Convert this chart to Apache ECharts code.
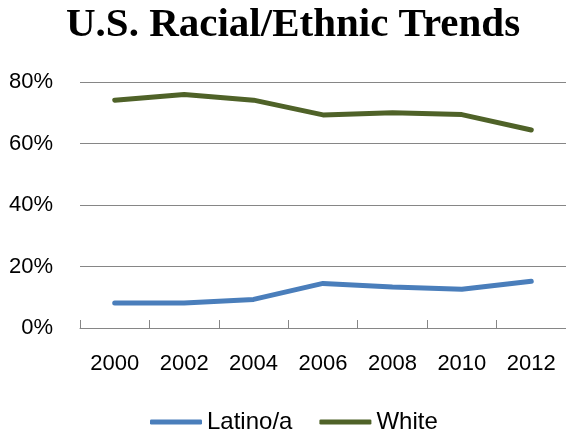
<!DOCTYPE html>
<html><head><meta charset="utf-8">
<script src="https://cdn.jsdelivr.net/npm/echarts@6/dist/echarts.min.js"></script>
<style>html,body{margin:0;padding:0;background:#fff}#c{width:566px;height:432px}</style>
</head><body><div id="c"></div>
<script>
const years = ['2000','2002','2004','2006','2008','2010','2012'];
const latino = [8.1, 8.1, 9.3, 14.5, 13.3, 12.6, 15.2];
const white = [74.1, 75.9, 74.1, 69.3, 70.0, 69.4, 64.4];
const yTicks = [0, 20, 40, 60, 80];

const chart = echarts.init(document.getElementById('c'));
const sans = 'Liberation Sans';
chart.setOption({
  animation: false,
  title: {
    text: 'U.S. Racial/Ethnic Trends',
    left: 61, top: 0,
    textStyle: { fontFamily: 'Liberation Serif', fontWeight: 'bold', fontSize: 41, color: '#000' }
  },
  legend: {
    top: 405, left: 145,
    itemWidth: 52, itemHeight: 5, itemGap: 27,
    icon: 'roundRect',
    textStyle: { fontFamily: sans, fontSize: 24, color: '#000' },
    data: ['Latino/a', 'White']
  },
  grid: { left: 80, right: -2, top: 82, bottom: 104, containLabel: false },
  xAxis: {
    type: 'category', data: years, boundaryGap: true,
    axisLine: { show: true, lineStyle: { color: '#868686', width: 1 } },
    axisTick: { show: true, inside: true, length: 8, lineStyle: { color: '#868686', width: 1 } },
    axisLabel: { fontFamily: sans, fontSize: 22, color: '#000', margin: 25 }
  },
  yAxis: {
    type: 'value', min: yTicks[0], max: yTicks[yTicks.length - 1], interval: 20,
    axisLine: { show: false }, axisTick: { show: false },
    splitLine: { lineStyle: { color: '#868686', width: 1 } },
    axisLabel: { fontFamily: sans, fontSize: 22, color: '#000', margin: 27, formatter: v => v + '%' }
  },
  series: [
    { name: 'Latino/a', type: 'line', data: latino, symbol: 'none',
      lineStyle: { width: 5, color: '#4A7EBB', cap: 'round', join: 'round' }, itemStyle: { color: '#4A7EBB' } },
    { name: 'White', type: 'line', data: white, symbol: 'none',
      lineStyle: { width: 5, color: '#4F6228', cap: 'round', join: 'round' }, itemStyle: { color: '#4F6228' } }
  ]
});
</script></body></html>
